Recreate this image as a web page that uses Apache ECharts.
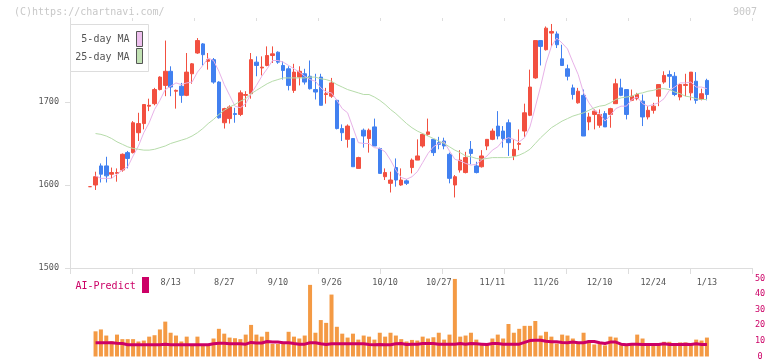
<!DOCTYPE html>
<html><head><meta charset="utf-8">
<script src="https://cdn.jsdelivr.net/npm/echarts/dist/echarts.min.js"></script>
<style>html,body{margin:0;padding:0;background:#fff}#c{width:772px;height:361px}</style>
</head><body><div id="c"></div>
<script>
const dates = ['7/22','7/23','7/24','7/25','7/28','7/29','7/30','7/31','8/1','8/4','8/5','8/6','8/7','8/8','8/12','8/13','8/14','8/15','8/18','8/19','8/20','8/21','8/22','8/25','8/26','8/27','8/28','8/29','9/1','9/2','9/3','9/4','9/5','9/8','9/9','9/10','9/11','9/12','9/16','9/17','9/18','9/19','9/22','9/24','9/25','9/26','9/29','9/30','10/1','10/2','10/3','10/6','10/7','10/8','10/9','10/10','10/14','10/15','10/16','10/17','10/20','10/21','10/22','10/23','10/24','10/27','10/28','10/29','10/30','10/31','11/4','11/5','11/6','11/7','11/10','11/11','11/12','11/13','11/14','11/17','11/18','11/19','11/20','11/21','11/25','11/26','11/27','11/28','12/1','12/2','12/3','12/4','12/5','12/8','12/9','12/10','12/11','12/12','12/15','12/16','12/17','12/18','12/19','12/22','12/23','12/24','12/25','12/26','12/29','12/30','1/5','1/6','1/7','1/8','1/9','1/13'];
const tickLabels = ['8/13','8/27','9/10','9/26','10/10','10/27','11/11','11/26','12/10','12/24','1/13'];
const priceTicks = [1500,1600,1700];

const open = [1598,1600,1623,1623,1613,1614,1618,1639,1639,1663,
1674,1695,1698,1715,1720,1737,1713,1719,1708,1734,
1759,1770,1749,1751,1724,1675,1680,1686,1685,1708,
1710,1748,1741,1744,1756,1760,1744,1740,1714,1730,
1734,1731,1715,1730,1709,1707,1702,1668,1655,1656,
1620,1666,1656,1670,1644,1610,1602,1621,1600,1605,
1621,1630,1647,1661,1655,1651,1653,1637,1600,1618,
1615,1643,1623,1622,1647,1655,1671,1665,1675,1635,
1649,1665,1684,1729,1774,1763,1783,1782,1752,1740,
1717,1699,1708,1676,1685,1672,1686,1685,1698,1717,
1715,1702,1704,1701,1682,1690,1707,1724,1733,1731,
1706,1720,1711,1725,1703,1726];
const close = [1598,1610,1613,1611,1615,1615,1637,1632,1675,1674,
1697,1696,1715,1730,1737,1718,1714,1708,1736,1746,
1774,1757,1751,1724,1681,1692,1694,1685,1711,1709,
1751,1744,1742,1756,1758,1748,1738,1720,1736,1737,
1724,1716,1712,1696,1710,1723,1668,1663,1671,1622,
1633,1659,1666,1647,1614,1615,1606,1606,1606,1602,
1630,1635,1661,1664,1639,1649,1647,1608,1610,1630,
1633,1638,1615,1635,1655,1665,1659,1656,1651,1643,
1650,1687,1718,1774,1767,1789,1785,1769,1744,1731,
1709,1713,1659,1682,1689,1685,1670,1692,1722,1708,
1685,1707,1709,1682,1690,1695,1721,1732,1731,1709,
1721,1721,1736,1702,1710,1709];
const low = [1598,1594,1603,1603,1608,1604,1616,1620,1638,1653,
1667,1689,1696,1714,1707,1707,1692,1699,1707,1722,
1758,1744,1739,1722,1680,1668,1674,1675,1683,1694,
1704,1731,1732,1743,1747,1746,1727,1714,1711,1720,
1721,1715,1703,1696,1698,1705,1667,1653,1645,1622,
1620,1645,1639,1647,1614,1606,1591,1598,1599,1600,
1614,1630,1645,1659,1635,1643,1643,1602,1585,1615,
1614,1625,1614,1621,1642,1654,1655,1645,1635,1630,
1642,1658,1683,1728,1744,1762,1767,1765,1744,1726,
1703,1698,1659,1666,1667,1669,1670,1669,1698,1707,
1679,1701,1702,1671,1679,1686,1695,1722,1717,1707,
1702,1707,1702,1698,1702,1702];
const high = [1598,1616,1626,1634,1621,1620,1638,1641,1677,1687,
1697,1704,1717,1731,1774,1743,1715,1723,1759,1747,
1777,1771,1759,1753,1725,1693,1696,1693,1714,1713,
1759,1755,1755,1767,1767,1761,1749,1743,1746,1743,
1740,1750,1734,1734,1717,1729,1703,1673,1673,1656,
1634,1668,1668,1680,1645,1620,1616,1632,1620,1607,
1632,1655,1662,1680,1655,1658,1657,1639,1612,1642,
1640,1653,1628,1642,1655,1668,1689,1671,1679,1655,
1667,1698,1739,1774,1774,1791,1794,1785,1769,1745,
1721,1717,1715,1687,1691,1691,1689,1693,1728,1728,
1715,1715,1711,1709,1695,1699,1721,1737,1738,1736,
1721,1734,1736,1736,1716,1728];
const ma5 = [null,1611,1608,1608,1608,1613,1618,1622,1635,1647,
1663,1675,1691,1702,1715,1719,1723,1721,1723,1724,
1736,1744,1753,1750,1737,1721,1708,1695,1693,1698,
1710,1720,1731,1740,1750,1750,1748,1744,1740,1736,
1731,1727,1725,1717,1712,1711,1702,1692,1687,1669,
1651,1650,1650,1645,1644,1640,1630,1618,1609,1607,
1610,1616,1627,1638,1646,1650,1652,1641,1631,1629,
1626,1624,1625,1630,1635,1642,1646,1654,1657,1655,
1652,1657,1670,1694,1719,1747,1767,1777,1771,1764,
1748,1733,1711,1699,1690,1686,1677,1684,1692,1695,
1695,1703,1706,1698,1695,1697,1699,1704,1714,1718,
1723,1723,1724,1718,1718,1716];
const ma25 = [null,1662,1661,1659,1656,1652,1649,1646,1644,1643,
1642,1642,1643,1645,1647,1650,1652,1654,1656,1659,
1663,1668,1674,1679,1685,1690,1694,1697,1701,1704,
1710,1714,1718,1722,1725,1727,1729,1729,1729,1729,
1729,1730,1730,1728,1727,1725,1721,1718,1715,1713,
1711,1709,1709,1706,1702,1697,1691,1686,1680,1674,
1669,1665,1662,1659,1656,1653,1650,1646,1642,1639,
1635,1634,1632,1631,1632,1633,1633,1633,1633,1634,
1636,1639,1643,1650,1657,1663,1669,1673,1677,1680,
1683,1685,1687,1690,1693,1695,1696,1699,1703,1705,
1706,1707,1710,1711,1713,1714,1716,1716,1715,1712,
1710,1707,1706,1704,1703,1703];
const volume = [null,16.1,17.3,13.4,9.8,14.0,11.1,11.1,11.1,9.6,
10.2,12.7,13.6,17.3,22.3,15.2,13.4,9.6,12.7,7.5,
12.7,7.5,7.5,11.5,17.7,14.6,12.1,11.7,11.1,14.0,
20.2,14.0,12.7,15.8,8.0,8.0,8.0,15.8,12.7,11.5,
13.4,45.8,15.2,23.3,21.5,39.6,19.0,14.6,12.1,14.6,
10.8,13.4,12.7,10.8,15.2,12.7,15.2,13.4,11.1,9.6,
10.6,10.2,12.7,11.5,12.3,15.2,10.8,14.0,49.6,12.7,
13.4,15.2,10.8,8.3,7.3,11.5,14.0,11.5,20.8,15.2,
17.7,19.6,19.6,22.7,13.4,15.8,12.7,8.3,14.0,13.4,
11.5,8.3,15.2,10.2,7.7,8.3,7.1,12.7,12.1,7.3,
7.3,7.3,14.0,11.5,7.7,7.3,7.7,9.4,9.4,7.7,
9.0,9.0,7.7,10.8,10.2,12.1];
const aiPredict = [null,8.8,8.8,8.8,8.8,8.5,8.3,7.5,7.5,7.5,
7.5,7.5,7.5,7.5,7.9,7.5,7.5,7.5,7.5,7.5,
7.5,7.5,7.5,8.1,8.4,8.4,8.1,8.1,8.1,7.9,
9.0,8.6,8.6,9.6,9.2,9.2,8.8,8.8,8.3,7.9,
7.9,8.8,8.8,8.1,7.7,8.1,8.1,8.1,8.1,8.1,
8.1,8.1,7.7,7.5,7.7,7.5,7.5,8.1,8.3,7.7,
7.9,7.9,8.3,8.3,8.3,7.9,7.9,7.9,7.9,8.3,
7.9,8.3,8.1,7.9,7.7,8.3,8.3,7.9,7.9,7.9,
7.9,9.0,10.2,10.4,10.4,9.8,9.4,9.4,9.0,8.8,
9.2,8.8,8.8,9.6,9.6,8.8,8.3,9.2,9.2,7.9,
7.5,7.9,7.9,7.7,7.7,7.7,7.7,8.1,7.7,7.7,
7.7,7.9,7.7,8.1,7.7,7.7];

const MONO = '"DejaVu Sans Mono", monospace';
const AX = '#dddddd';
const candles = open.map((o, i) => [o, close[i], low[i], high[i]]);

const chart = echarts.init(document.getElementById('c'), null, {renderer: 'canvas'});
chart.setOption({
  animation: false,
  backgroundColor: '#ffffff',
  grid: [
    {left: 70, width: 682, top: 18, height: 250},
    {left: 87.5, width: 622.1, top: 18, height: 250},
    {left: 87.5, width: 622.1, top: 278.3, height: 80}
  ],
  xAxis: [
    {gridIndex: 0, type: 'value', min: 0, max: 11, interval: 1,
     axisLine: {show: true, lineStyle: {color: AX}},
     axisTick: {show: true, length: 6, lineStyle: {color: AX}},
     axisLabel: {show: false}, splitLine: {show: false}},
    {gridIndex: 0, type: 'value', min: 0, max: 11, interval: 1,
     axisLine: {show: false},
     axisTick: {show: true, inside: true, length: 3, lineStyle: {color: AX}},
     axisLabel: {show: false}, splitLine: {show: false}},
    {gridIndex: 1, type: 'category', data: dates, boundaryGap: true,
     axisLine: {show: false}, axisTick: {show: false}, splitLine: {show: false},
     axisLabel: {interval: (i, v) => tickLabels.indexOf(v) >= 0, margin: 10,
                 fontSize: 8.5, fontFamily: MONO, color: '#555'}},
    {gridIndex: 2, type: 'category', data: dates, boundaryGap: true, show: false}
  ],
  yAxis: [
    {gridIndex: 0, type: 'value', min: 1500, max: 1801.2,
     axisLine: {show: true, lineStyle: {color: AX}},
     axisTick: {show: true, length: 5, customValues: priceTicks, lineStyle: {color: AX}},
     axisLabel: {customValues: priceTicks, margin: 11, fontSize: 8.5, fontFamily: MONO, color: '#555',
                 formatter: v => (priceTicks.indexOf(v) >= 0 ? String(v) : '')},
     splitLine: {show: false}},
    {gridIndex: 0, type: 'value', min: 1500, max: 1801.2,
     axisLine: {show: false},
     axisTick: {show: true, inside: true, length: 3, customValues: priceTicks, lineStyle: {color: AX}},
     axisLabel: {show: false}, splitLine: {show: false}},
    {gridIndex: 1, type: 'value', min: 1500, max: 1801.2, show: false},
    {gridIndex: 2, type: 'value', min: 0, max: 50, interval: 10, position: 'right', offset: 42.4,
     axisLine: {show: false}, axisTick: {show: false}, splitLine: {show: false},
     axisLabel: {align: 'center', margin: 8, fontSize: 8.5, fontFamily: MONO, color: '#cc0066'}}
  ],
  series: [
    {type: 'candlestick', xAxisIndex: 2, yAxisIndex: 2, data: candles, barWidth: 4,
     itemStyle: {color: '#f25040', color0: '#4180f0', borderColor: '#f25040', borderColor0: '#4180f0', borderWidth: 1}},
    {type: 'line', xAxisIndex: 2, yAxisIndex: 2, data: ma5, showSymbol: false, connectNulls: false,
     lineStyle: {width: 1, color: '#e8b2e8'}, z: 3},
    {type: 'line', xAxisIndex: 2, yAxisIndex: 2, data: ma25, showSymbol: false,
     lineStyle: {width: 1, color: '#b6dcaa'}, z: 3},
    {type: 'bar', xAxisIndex: 3, yAxisIndex: 3, data: volume, barWidth: 4,
     itemStyle: {color: '#f49a44'}},
    {type: 'line', xAxisIndex: 3, yAxisIndex: 3, data: aiPredict, showSymbol: false,
     lineStyle: {width: 3, color: '#cc0066'}, z: 4}
  ],
  graphic: [
    {type: 'text', z: 10, style: {x: 14, y: 12.5, text: '(C)https://chartnavi.com/', align: 'left', verticalAlign: 'middle',
      fontSize: 10, fontFamily: MONO, fill: '#c8c8c8'}},
    {type: 'text', z: 10, style: {x: 757, y: 12.5, text: '9007', align: 'right', verticalAlign: 'middle',
      fontSize: 10, fontFamily: MONO, fill: '#c8c8c8'}},
    {type: 'rect', z: 10, shape: {x: 70.5, y: 24.5, width: 78, height: 47}, style: {fill: '#fff', stroke: '#dddddd', lineWidth: 1}},
    {type: 'text', z: 11, style: {x: 129.5, y: 39.5, text: '5-day MA', align: 'right', verticalAlign: 'middle',
      fontSize: 10, fontFamily: MONO, fill: '#555'}},
    {type: 'text', z: 11, style: {x: 129.5, y: 57, text: '25-day MA', align: 'right', verticalAlign: 'middle',
      fontSize: 10, fontFamily: MONO, fill: '#555'}},
    {type: 'rect', z: 11, shape: {x: 136.5, y: 31.5, width: 6, height: 15}, style: {fill: '#eec0ee', stroke: '#555', lineWidth: 1}},
    {type: 'rect', z: 11, shape: {x: 136.5, y: 48.5, width: 6, height: 15}, style: {fill: '#c2e2b4', stroke: '#555', lineWidth: 1}},
    {type: 'text', z: 11, style: {x: 75.5, y: 286, text: 'AI-Predict', align: 'left', verticalAlign: 'middle',
      fontSize: 10, fontFamily: MONO, fill: '#cc0066'}},
    {type: 'rect', z: 11, shape: {x: 142, y: 277, width: 7, height: 16}, style: {fill: '#cc0066'}}
  ]
});
</script>
</body></html>
